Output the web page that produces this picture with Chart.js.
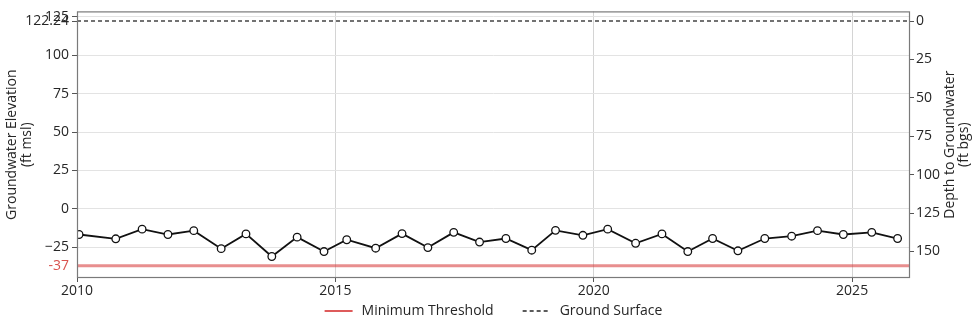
<!DOCTYPE html>
<html>
<head>
<meta charset="utf-8">
<script src="https://cdn.jsdelivr.net/npm/chart.js@4.4.1/dist/chart.umd.min.js"></script>
<style>
  html, body { margin: 0; padding: 0; background: #ffffff; }
  #c { display: block; }
</style>
</head>
<body>
<canvas id="c" width="973" height="326"></canvas>
<script>
// Sample dates (decimal years) and measured groundwater elevations (ft msl)
const sampleYears = [
  2010.04, 2010.75, 2011.26, 2011.76, 2012.26, 2012.79, 2013.27, 2013.77,
  2014.26, 2014.78, 2015.22, 2015.78, 2016.29, 2016.79, 2017.29, 2017.79,
  2018.30, 2018.80, 2019.26, 2019.79, 2020.27, 2020.81, 2021.32, 2021.82,
  2022.30, 2022.79, 2023.31, 2023.83, 2024.33, 2024.83, 2025.38, 2025.88
];
const elevations = [
  -16.7, -19.5, -13.2, -16.7, -14.2, -25.9, -16.3, -31.0,
  -18.4, -27.8, -20.1, -25.6, -16.1, -25.2, -15.3, -21.6,
  -19.3, -26.9, -14.0, -17.2, -13.2, -22.4, -16.3, -27.8,
  -19.3, -27.3, -19.3, -17.8, -14.2, -16.7, -15.3, -19.3
];

// Reference levels (ft msl)
const groundSurface = 122.24;
const minimumThreshold = -37;

// Tick values
const yearTicks = [2010, 2015, 2020, 2025];
const elevationTicks = [-37, -25, 0, 25, 50, 75, 100, 122.24, 125];
const depthTicks = [0, 25, 50, 75, 100, 125, 150];

// Axis extents
const yearMin = 2010, yearMax = 2026.12;
const elevMin = -45, elevMax = 128.5;

const FONT = "'Open Sans', 'DejaVu Sans', sans-serif";
Chart.defaults.font.family = FONT;
Chart.defaults.font.size = 14;
Chart.defaults.color = '#262626';

const thresholdColor = 'rgba(214,50,50,0.55)';

const legendEntries = [
  { label: 'Minimum Threshold', color: 'rgba(214,50,50,0.8)', dash: [], width: 2 },
  { label: 'Ground Surface', color: '#262626', dash: [4, 3], width: 1.6 }
];

const decorations = {
  id: 'decorations',
  afterDraw(chart) {
    const { ctx, chartArea: a } = chart;
    ctx.save();
    // plot frame
    ctx.strokeStyle = '#7a7a7a';
    ctx.lineWidth = 1.2;
    ctx.strokeRect(a.left + 0.5, a.top + 0.5, a.right - a.left - 1, a.bottom - a.top - 1);

    // axis titles, rotated to read bottom-to-top
    const midY = (a.top + a.bottom) / 2;
    ctx.fillStyle = '#262626';
    ctx.font = '14px ' + FONT;
    ctx.textAlign = 'center';
    ctx.textBaseline = 'middle';
    const vtext = (txt, x) => {
      ctx.save();
      ctx.translate(x, midY);
      ctx.rotate(-Math.PI / 2);
      ctx.fillText(txt, 0, 0);
      ctx.restore();
    };
    vtext('Groundwater Elevation', 12);
    vtext('(ft msl)', 27);
    vtext('Depth to Groundwater', 950);
    vtext('(ft bgs)', 964);

    // legend
    ctx.font = '14px ' + FONT;
    ctx.textAlign = 'left';
    const lineLen = 28, gapText = 9, gapItem = 29;
    const widths = legendEntries.map(e => lineLen + gapText + ctx.measureText(e.label).width);
    const total = widths.reduce((s, w) => s + w, 0) + gapItem * (legendEntries.length - 1);
    let x = (a.left + a.right) / 2 - total / 2;
    const y = 311;
    legendEntries.forEach((e, i) => {
      ctx.beginPath();
      ctx.setLineDash(e.dash);
      ctx.strokeStyle = e.color;
      ctx.lineWidth = e.width;
      ctx.moveTo(x, y);
      ctx.lineTo(x + lineLen, y);
      ctx.stroke();
      ctx.setLineDash([]);
      ctx.fillStyle = '#262626';
      ctx.fillText(e.label, x + lineLen + gapText, y);
      x += widths[i] + gapItem;
    });
    ctx.restore();
  }
};

const fmtElev = v => {
  if (v === groundSurface) return '122.24';
  if (v === minimumThreshold) return '-37';
  return v < 0 ? '\u2212' + Math.abs(v) : String(v);
};

new Chart(document.getElementById('c'), {
  type: 'line',
  data: {
    datasets: [
      {
        label: 'Groundwater Elevation',
        data: sampleYears.map((yr, i) => ({ x: yr, y: elevations[i] })),
        borderColor: '#111111',
        borderWidth: 1.8,
        pointRadius: 3.8,
        pointBackgroundColor: '#ffffff',
        pointBorderColor: '#111111',
        pointBorderWidth: 1.3,
        tension: 0,
        yAxisID: 'y'
      },
      {
        label: 'Minimum Threshold',
        data: [{ x: yearMin, y: minimumThreshold }, { x: yearMax, y: minimumThreshold }],
        borderColor: thresholdColor,
        borderWidth: 3,
        pointRadius: 0,
        yAxisID: 'y'
      },
      {
        label: 'Ground Surface',
        data: [{ x: yearMin, y: groundSurface }, { x: yearMax, y: groundSurface }],
        borderColor: '#444444',
        borderWidth: 1.6,
        borderDash: [4, 3],
        pointRadius: 0,
        yAxisID: 'y'
      }
    ]
  },
  options: {
    responsive: false,
    animation: false,
    devicePixelRatio: 1,
    layout: { padding: { top: 6, left: 0, right: 0, bottom: 26 } },
    plugins: { legend: { display: false }, tooltip: { enabled: false } },
    scales: {
      x: {
        type: 'linear',
        min: yearMin,
        max: yearMax,
        afterBuildTicks: s => { s.ticks = yearTicks.map(v => ({ value: v })); },
        afterFit: s => { s.height = 22; },
        border: { display: false },
        grid: { color: '#d4d4d4', tickColor: '#555555', tickLength: 4 },
        ticks: { autoSkip: false, maxRotation: 0, padding: 1, callback: v => String(v) }
      },
      y: {
        position: 'left',
        min: elevMin,
        max: elevMax,
        afterBuildTicks: s => { s.ticks = elevationTicks.map(v => ({ value: v })); },
        afterFit: s => { s.width = 77; },
        border: { display: false },
        grid: {
          color: c => (c.tick && (c.tick.value === groundSurface || c.tick.value === minimumThreshold)) ? 'rgba(0,0,0,0)' : '#e3e3e3',
          tickColor: c => (c.tick && c.tick.value === minimumThreshold) ? 'rgba(0,0,0,0)' : '#555555',
          tickLength: 5
        },
        ticks: {
          autoSkip: false,
          padding: 3,
          color: c => (c.tick && c.tick.value === minimumThreshold) ? '#d9534f' : '#262626',
          callback: v => fmtElev(v)
        }
      },
      y1: {
        position: 'right',
        reverse: true,
        min: groundSurface - elevMax,
        max: groundSurface - elevMin,
        afterBuildTicks: s => { s.ticks = depthTicks.map(v => ({ value: v })); },
        afterFit: s => { s.width = 63; },
        border: { display: false },
        grid: { drawOnChartArea: false, tickColor: '#555555', tickLength: 4 },
        ticks: { autoSkip: false, padding: 2, callback: v => String(v) }
      }
    }
  },
  plugins: [decorations]
});
</script>
</body>
</html>
